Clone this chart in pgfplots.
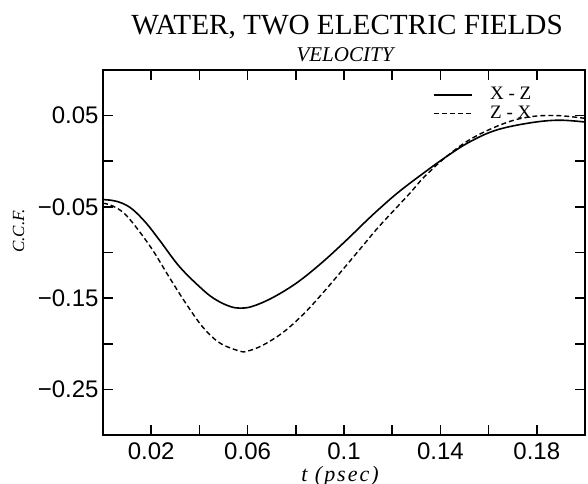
\documentclass[border=0pt]{standalone}
\usepackage{pgfplots}
\pgfplotsset{compat=1.18}
\usepackage{fontspec}
\setmainfont{Liberation Serif}
\newfontfamily\tickfont{Liberation Sans}
\newfontfamily\spacedit[LetterSpace=9]{Liberation Serif Italic}
\begin{document}
\begin{tikzpicture}
\begin{axis}[
  name=ax, at={(0,0)}, anchor=south west,
  scale only axis, width=241pt, height=182.5pt,
  xmin=0, xmax=0.2, ymin=-0.3, ymax=0.1,
  xtick={0.02,0.04,0.06,0.08,0.1,0.12,0.14,0.16,0.18},
  xticklabels={0.02,,0.06,,0.1,,0.14,,0.18},
  ytick={-0.25,-0.2,-0.15,-0.1,-0.05,0,0.05},
  yticklabels={−0.25,,−0.15,,−0.05,,0.05},
  /pgf/number format/assume math mode=true,
  tick align=inside,
  major tick length=5pt,
  every tick/.style={line width=0.8pt, black},
  axis line style={line width=1pt},
  xticklabel style={font=\tickfont\fontsize{12}{12}\selectfont, anchor=base, yshift=-12pt},
  yticklabel style={font=\tickfont\fontsize{12}{12}\selectfont, anchor=east, inner sep=0pt, xshift=-2pt},
  legend style={draw=none, fill=none, at={(0.685,0.965)}, anchor=north west,
     font=\fontsize{9.5}{9.5}\selectfont, row sep=-2.5pt, column sep=6.5pt, inner sep=0pt},
  legend cell align=left,
  legend image code/.code={\draw[#1] (0pt,0pt) -- (19pt,0pt);},
]
\addplot[black, line width=0.8pt, smooth, tension=0.6] coordinates {
(0.000,-0.042) (0.004,-0.043) (0.008,-0.046) (0.0124,-0.053) (0.018,-0.068)
(0.0236,-0.087) (0.0319,-0.116) (0.0415,-0.141) (0.047,-0.152) (0.0526,-0.159)
(0.057,-0.161) (0.062,-0.159) (0.070,-0.150) (0.080,-0.134) (0.090,-0.113)
(0.100,-0.089) (0.109,-0.066) (0.1147,-0.052) (0.123,-0.033) (0.134,-0.011)
(0.143,0.006) (0.152,0.021) (0.163,0.034) (0.177,0.042) (0.189,0.045) (0.200,0.043)
};
\addlegendentry{X - Z}
\addplot[black, line width=0.7pt, smooth, tension=0.6, dash pattern=on 2.5pt off 1.5pt] coordinates {
(0.000,-0.046) (0.004,-0.049) (0.0099,-0.060) (0.0195,-0.093) (0.0277,-0.128)
(0.0347,-0.157) (0.0415,-0.182) (0.0484,-0.199) (0.0567,-0.208) (0.060,-0.208)
(0.066,-0.202) (0.0745,-0.188) (0.083,-0.168) (0.091,-0.145) (0.0994,-0.119)
(0.108,-0.092) (0.1147,-0.071) (0.127,-0.036) (0.133,-0.018) (0.142,0.004)
(0.153,0.025) (0.167,0.042) (0.178,0.049) (0.189,0.050) (0.200,0.047)
};
\addlegendentry{Z - X}
\end{axis}
\node[anchor=base, font=\fontsize{14.6}{14.6}\selectfont] at (122pt,200pt) {WATER, TWO ELECTRIC FIELDS};
\node[anchor=base, font=\itshape\fontsize{10.5}{10.5}\selectfont] at (121pt,186.5pt) {VELOCITY};
\node[anchor=base, font=\spacedit\fontsize{11}{11}\selectfont] at (118.5pt,-23pt) {t (psec)};
\node[rotate=90, font=\itshape\fontsize{8.5}{8.5}\selectfont] at (-42.25pt,102pt) {C.C.F.};
\pgfresetboundingbox
\path (-51.5pt,-24pt) rectangle (242.5pt,217.5pt);
\end{tikzpicture}
\end{document}
